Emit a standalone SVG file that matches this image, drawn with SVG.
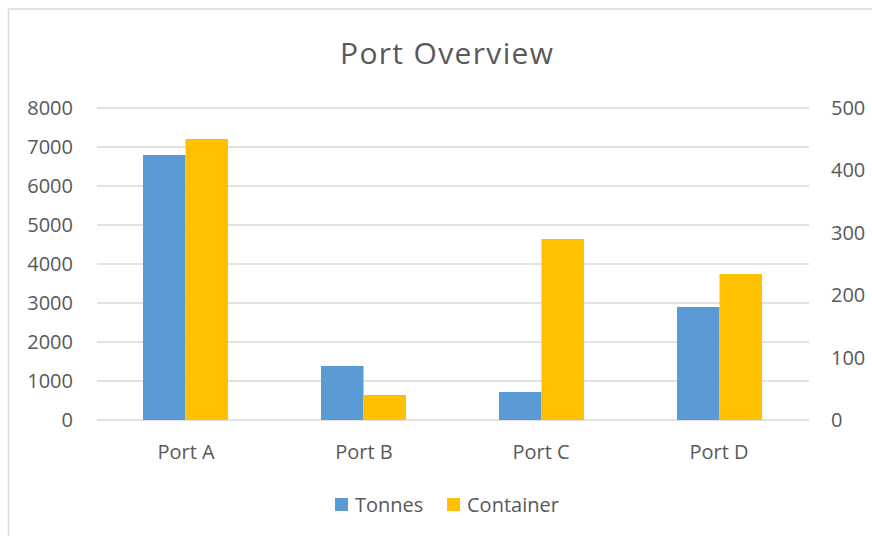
<svg xmlns="http://www.w3.org/2000/svg" width="872" height="536" viewBox="0 0 872 536">
<style>
text{font-family:"Open Sans","Noto Sans","Liberation Sans",sans-serif;fill:#595959}
.ax{font-size:20px}
.grid line{stroke:#D9D9D9;stroke-width:1.5}
.t{fill:#5B9BD5}
.c{fill:#FFC000}
</style>
<rect x="0" y="0" width="872" height="536" fill="#fff"/>
<rect x="8.5" y="9" width="880" height="540" fill="#fff" stroke="#D9D9D9" stroke-width="1.5"/>
<text x="340" y="64" font-size="30" textLength="213" lengthAdjust="spacing">Port Overview</text>
<g class="grid">
<line x1="97" y1="108" x2="809" y2="108"/>
<line x1="97" y1="147" x2="809" y2="147"/>
<line x1="97" y1="186" x2="809" y2="186"/>
<line x1="97" y1="225" x2="809" y2="225"/>
<line x1="97" y1="264" x2="809" y2="264"/>
<line x1="97" y1="303" x2="809" y2="303"/>
<line x1="97" y1="342" x2="809" y2="342"/>
<line x1="97" y1="381" x2="809" y2="381"/>
<line x1="97" y1="420" x2="809" y2="420"/>
</g>
<g class="ax" text-anchor="end">
<text x="73" y="115">8000</text>
<text x="73" y="154">7000</text>
<text x="73" y="193">6000</text>
<text x="73" y="232">5000</text>
<text x="73" y="271">4000</text>
<text x="73" y="310">3000</text>
<text x="73" y="349">2000</text>
<text x="73" y="388">1000</text>
<text x="73" y="427">0</text>
</g>
<g class="ax">
<text x="831" y="115">500</text>
<text x="831" y="177">400</text>
<text x="831" y="240">300</text>
<text x="831" y="302">200</text>
<text x="831" y="365">100</text>
<text x="831" y="427">0</text>
</g>
<g id="portA">
<rect class="t" x="143" y="155" width="42.5" height="265"/>
<rect class="c" x="185.5" y="139" width="42.5" height="281"/>
<text class="ax" x="186" y="459" text-anchor="middle">Port A</text>
</g>
<g id="portB">
<rect class="t" x="321" y="366" width="42.5" height="54"/>
<rect class="c" x="363.5" y="395" width="42.5" height="25"/>
<text class="ax" x="364" y="459" text-anchor="middle">Port B</text>
</g>
<g id="portC">
<rect class="t" x="499" y="392" width="42.5" height="28"/>
<rect class="c" x="541.5" y="239" width="42.5" height="181"/>
<text class="ax" x="541" y="459" text-anchor="middle">Port C</text>
</g>
<g id="portD">
<rect class="t" x="677" y="307" width="42.5" height="113"/>
<rect class="c" x="719.5" y="274" width="42.5" height="146"/>
<text class="ax" x="719" y="459" text-anchor="middle">Port D</text>
</g>
<g id="legend">
<rect class="t" x="335" y="498" width="13" height="13"/>
<text class="ax" x="355" y="512">Tonnes</text>
<rect class="c" x="447" y="498" width="13" height="13"/>
<text class="ax" x="467" y="512">Container</text>
</g>
</svg>
